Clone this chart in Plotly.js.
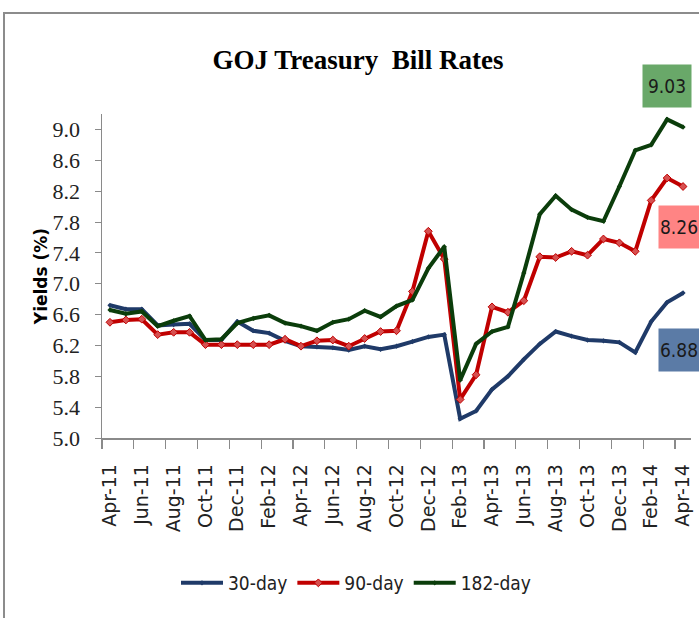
<!DOCTYPE html>
<html>
<head>
<meta charset="utf-8">
<script src="https://cdn.plot.ly/plotly-3.0.1.min.js"></script>
<style>html,body{margin:0;padding:0;background:#fff;}#chart{width:699px;height:618px;}</style>
</head>
<body>
<div id="chart"></div>
<script>
const months = ["Apr-11","May-11","Jun-11","Jul-11","Aug-11","Sep-11","Oct-11","Nov-11","Dec-11","Jan-12","Feb-12","Mar-12",
  "Apr-12","May-12","Jun-12","Jul-12","Aug-12","Sep-12","Oct-12","Nov-12","Dec-12","Jan-13","Feb-13","Mar-13",
  "Apr-13","May-13","Jun-13","Jul-13","Aug-13","Sep-13","Oct-13","Nov-13","Dec-13","Jan-14","Feb-14","Mar-14","Apr-14"];
const day30 = [6.72,6.67,6.67,6.46,6.47,6.48,6.27,6.27,6.51,6.39,6.36,6.26,
  6.19,6.18,6.17,6.14,6.19,6.15,6.19,6.25,6.31,6.34,5.25,5.35,
  5.63,5.80,6.02,6.22,6.38,6.32,6.27,6.26,6.24,6.11,6.51,6.76,6.88];
const day90 = [6.50,6.53,6.54,6.34,6.37,6.37,6.21,6.21,6.21,6.21,6.21,6.28,
  6.19,6.26,6.27,6.19,6.29,6.38,6.39,6.90,7.68,7.32,5.50,5.82,
  6.70,6.63,6.78,7.35,7.34,7.42,7.37,7.58,7.53,7.42,8.08,8.37,8.26];
const day182 = [6.66,6.61,6.64,6.45,6.52,6.58,6.27,6.28,6.49,6.55,6.59,6.49,
  6.45,6.39,6.50,6.54,6.65,6.57,6.71,6.79,7.20,7.48,5.75,6.22,
  6.38,6.44,7.14,7.90,8.14,7.96,7.86,7.81,8.26,8.73,8.80,9.13,9.03];
const seriesNames = ["30-day","90-day","182-day"];
const lastLabels = ["6.88","8.26","9.03"];

const tickLabels = months.filter((m, i) => i % 2 === 0);
const boundaryTicks = [];
for (let i = 0; i < months.length; i += 2) boundaryTicks.push(i - 0.5);

const narrow = '"DejaVu Sans Condensed", "Liberation Sans Narrow", "Liberation Sans", Arial, sans-serif';

const traces = [
  {x: months, y: day30, name: seriesNames[0], type: 'scatter', mode: 'lines+markers',
   line: {color: '#1F3A68', width: 4}, marker: {symbol: 'diamond', size: 4, color: '#1F3A68'}},
  {x: months, y: day90, name: seriesNames[1], type: 'scatter', mode: 'lines+markers',
   line: {color: '#C00000', width: 4}, marker: {symbol: 'diamond', size: 6, color: '#D65050', line: {color: '#C00000', width: 1}}},
  {x: months, y: day182, name: seriesNames[2], type: 'scatter', mode: 'lines+markers',
   line: {color: '#0B3D0B', width: 4}, marker: {symbol: 'diamond', size: 4, color: '#0B3D0B'}},
  {x: [], y: [], xaxis: 'x2', showlegend: false, hoverinfo: 'skip', type: 'scatter'}
];

const W = 589, H = 324, L = 102, T = 114;
const px = v => (v - L) / W;
const py = v => (T + H - v) / H;

const boxFont = {family: narrow, size: 19, color: '#1a1a1a'};

const layout = {
  width: 699, height: 618,
  margin: {l: L, r: 8, t: T, b: 180},
  paper_bgcolor: '#ffffff', plot_bgcolor: '#ffffff',
  showlegend: true,
  title: {text: 'GOJ Treasury\u00a0 Bill Rates', font: {family: '"Liberation Serif", "Times New Roman", serif', size: 27, color: '#000', weight: 'bold'},
          x: 358/699, xref: 'container', xanchor: 'center', y: 1 - 60/618, yref: 'container', yanchor: 'middle'},
  xaxis: {type: 'category', range: [-0.5, 36.5], tickmode: 'array', tickvals: tickLabels, ticktext: tickLabels,
          tickangle: -90, ticks: '', showline: true, linecolor: '#8a8a8a', linewidth: 1.5, showgrid: false,
          ticklabelstandoff: 17,
          tickfont: {family: '"DejaVu Sans", sans-serif', size: 19, color: '#222'}},
  xaxis2: {overlaying: 'x', anchor: 'y', side: 'bottom', range: [-0.5, 36.5], type: 'linear', tickmode: 'array',
           tickvals: boundaryTicks, ticks: 'outside', ticklen: 10, tickcolor: '#8a8a8a', tickwidth: 1.2,
           showticklabels: false, showline: false, showgrid: false, zeroline: false},
  yaxis: {range: [5.0, 9.2], tick0: 5.0, dtick: 0.4, tickformat: '.1f', ticks: 'outside', ticklen: 6,
          tickcolor: '#8a8a8a', showline: true, linecolor: '#8a8a8a', linewidth: 1.5, showgrid: false, zeroline: false,
          ticklabelstandoff: 10, automargin: true,
          tickfont: {family: '"Liberation Serif", "Times New Roman", serif', size: 22, color: '#222'},
          title: {text: 'Yields (%)', font: {family: '"DejaVu Sans", sans-serif', size: 17, color: '#000', weight: 'bold'}, standoff: 0}},
  legend: {orientation: 'h', x: px(356), xanchor: 'center', y: py(583), yanchor: 'middle', itemwidth: 42,
           font: {family: narrow, size: 19, color: '#222'}, tracegroupgap: 0, bgcolor: 'rgba(0,0,0,0)'},
  shapes: [
    {type: 'rect', xref: 'paper', yref: 'paper', x0: px(4), x1: px(760), y0: py(13), y1: py(700),
     line: {color: '#8c8c8c', width: 2}, fillcolor: 'rgba(0,0,0,0)', layer: 'below'}
  ],
  annotations: [
    {xref: 'paper', yref: 'paper', x: px(667), y: py(86), xanchor: 'center', yanchor: 'middle', text: lastLabels[2], showarrow: false,
     width: 46, height: 40, bgcolor: '#69A869', borderpad: 1, font: boxFont},
    {xref: 'paper', yref: 'paper', x: px(679), y: py(226.5), xanchor: 'center', yanchor: 'middle', text: lastLabels[1], showarrow: false,
     width: 38, height: 40, bgcolor: '#FF8484', borderpad: 1, font: boxFont},
    {xref: 'paper', yref: 'paper', x: px(679), y: py(349.5), xanchor: 'center', yanchor: 'middle', text: lastLabels[0], showarrow: false,
     width: 38, height: 40, bgcolor: '#5B7BA6', borderpad: 1, font: boxFont}
  ]
};

Plotly.newPlot('chart', traces, layout, {displayModeBar: false, staticPlot: true});
</script>
</body>
</html>
